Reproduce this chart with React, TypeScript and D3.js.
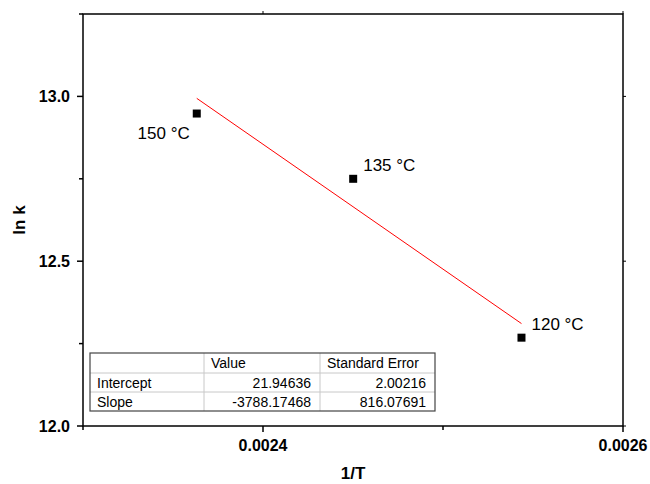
import React from "react";
import * as d3 from "d3";

const temps = ["150 °C", "135 °C", "120 °C"];
const invT = [0.0023632, 0.0024501, 0.0025436];
const lnk = [12.948, 12.75, 12.268];
const intercept = 21.94636;
const slope = -3788.17468;
const xMajor = [0.0024, 0.0026];
const xMinor = [0.0023, 0.0025];
const yMajor = [12.0, 12.5, 13.0];
const yMinor = [12.25, 12.75, 13.25];
const tableHeader = ["", "Value", "Standard Error"];
const tableRows = [
  ["Intercept", "21.94636", "2.00216"],
  ["Slope", "-3788.17468", "816.07691"],
];

export default function App() {
  const W = 650, H = 484;
  const L = 83, R = 623, T = 14, B = 426;
  const x = d3.scaleLinear().domain([0.0023, 0.0026]).range([L, R]);
  const y = d3.scaleLinear().domain([12.0, 13.25]).range([B, T]);
  const font = "Liberation Sans, Arial, sans-serif";
  const x0 = invT[0], x1 = invT[2];
  const line = d3.line<number>().x((d) => x(d)).y((d) => y(intercept + slope * d));
  const labelPos = [
    { dx: -7, dy: 25, anchor: "end" },
    { dx: 10, dy: -8, anchor: "start" },
    { dx: 10, dy: -8, anchor: "start" },
  ];
  const colX = [90, 204, 320, 435];
  const rowY = [353, 373, 392, 411];
  return (
    <svg width={W} height={H} style={{ position: "absolute", left: 0, top: 0 }} fontFamily={font}>
      <rect width={W} height={H} fill="#fff" />
      {/* table */}
      <g>
        {rowY.slice(1, 3).map((ry, i) => (
          <line key={"h" + i} x1={colX[0]} x2={colX[3]} y1={ry} y2={ry} stroke="#c8c8c8" />
        ))}
        {colX.slice(1, 3).map((cx, i) => (
          <line key={"v" + i} x1={cx} x2={cx} y1={rowY[0]} y2={rowY[3]} stroke="#c8c8c8" />
        ))}
        <rect x={colX[0]} y={rowY[0]} width={colX[3] - colX[0]} height={rowY[3] - rowY[0]} fill="none" stroke="#444" strokeWidth={1.2} />
        {tableHeader.map((t, i) => (
          <text key={"th" + i} x={colX[i] + 7} y={rowY[0] + 15} fontSize={14}>{t}</text>
        ))}
        {tableRows.map((r, ri) =>
          r.map((t, ci) => (
            <text key={ri + "-" + ci} x={ci === 0 ? colX[0] + 7 : colX[ci + 1] - 9} y={rowY[ri + 1] + 15} fontSize={14} textAnchor={ci === 0 ? "start" : "end"}>{t}</text>
          ))
        )}
      </g>
      {/* fit line */}
      <path d={line([x0, x1]) || ""} stroke="#ff0000" strokeWidth={1} fill="none" />
      {/* points */}
      {invT.map((v, i) => (
        <rect key={"p" + i} x={x(v) - 4} y={y(lnk[i]) - 4} width={8} height={8} fill="#000" />
      ))}
      {invT.map((v, i) => (
        <text key={"l" + i} x={x(v) + labelPos[i].dx} y={y(lnk[i]) + labelPos[i].dy} fontSize={17} textAnchor={labelPos[i].anchor as any}>{temps[i]}</text>
      ))}
      {/* frame */}
      <rect x={L} y={T} width={R - L} height={B - T} fill="none" stroke="#000" strokeWidth={1.5} />
      {/* x ticks */}
      {xMajor.map((v, i) => (
        <g key={"xm" + i}>
          <line x1={x(v)} x2={x(v)} y1={B} y2={B + 6} stroke="#000" strokeWidth={1.5} />
          <line x1={x(v)} x2={x(v)} y1={T} y2={T - 3} stroke="#000" strokeWidth={1} />
          <text x={x(v)} y={451} fontSize={16} fontWeight="bold" textAnchor="middle">{v.toFixed(4)}</text>
        </g>
      ))}
      {xMinor.map((v, i) => (
        <g key={"xn" + i}>
          <line x1={x(v)} x2={x(v)} y1={B} y2={B + 4} stroke="#000" strokeWidth={1.5} />
        </g>
      ))}
      {/* y ticks */}
      {yMajor.map((v, i) => (
        <g key={"ym" + i}>
          <line x1={L - 6} x2={L} y1={y(v)} y2={y(v)} stroke="#000" strokeWidth={1.5} />
          <line x1={R} x2={R + 3} y1={y(v)} y2={y(v)} stroke="#000" strokeWidth={1} />
          <text x={70} y={y(v) + 6} fontSize={16} fontWeight="bold" textAnchor="end">{v.toFixed(1)}</text>
        </g>
      ))}
      {yMinor.map((v, i) => (
        <line key={"yn" + i} x1={L - 4} x2={L} y1={y(v)} y2={y(v)} stroke="#000" strokeWidth={1.5} />
      ))}
      {/* axis titles */}
      <text x={353} y={479} fontSize={17} fontWeight="bold" textAnchor="middle">1/T</text>
      <text transform={`translate(25,${(T + B) / 2}) rotate(-90)`} fontSize={17} fontWeight="bold" textAnchor="middle">ln k</text>
    </svg>
  );
}
